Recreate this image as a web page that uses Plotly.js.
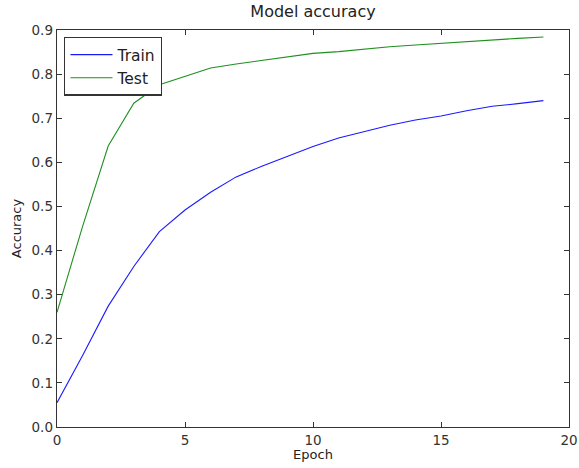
<!DOCTYPE html>
<html>
<head>
<meta charset="utf-8">
<script src="https://cdn.plot.ly/plotly-3.0.1.min.js"></script>
<style>html,body{margin:0;padding:0;background:#fff;}#chart{width:579px;height:468px;}</style>
</head>
<body>
<div id="chart"></div>
<script>
const epochs = [0,1,2,3,4,5,6,7,8,9,10,11,12,13,14,15,16,17,18,19];
const trainAcc = [0.055,0.162,0.274,0.364,0.443,0.492,0.532,0.567,0.591,0.613,0.636,0.655,0.670,0.684,0.696,0.705,0.717,0.727,0.733,0.740];
const testAcc = [0.26,0.455,0.637,0.734,0.776,0.795,0.814,0.823,0.831,0.839,0.847,0.851,0.857,0.862,0.866,0.870,0.874,0.877,0.881,0.884];
const seriesNames = ["Train","Test"];
const xTicks = [0,5,10,15,20];
const yTicks = [0,0.1,0.2,0.3,0.4,0.5,0.6,0.7,0.8,0.9];

const font = "DejaVu Sans, sans-serif";
const traces = [
  {x: epochs, y: trainAcc, name: seriesNames[0], mode: "lines", line: {color: "#1a1aff", width: 1.1}},
  {x: epochs, y: testAcc, name: seriesNames[1], mode: "lines", line: {color: "#1f8f1f", width: 1.1}}
];
const axisCommon = {
  showgrid: false, zeroline: false, showline: true, linecolor: "#333", linewidth: 1.3,
  mirror: "ticks", ticks: "inside", ticklen: 5, tickcolor: "#333", tickwidth: 1,
  tickfont: {family: font, size: 13.5, color: "#333"}
};
const layout = {
  width: 579, height: 468,
  margin: {l: 57, r: 10, t: 30, b: 41},
  paper_bgcolor: "#fff", plot_bgcolor: "#fff",
  title: {text: "Model accuracy", font: {family: font, size: 16, color: "#222"}, x: 0.5, xref: "paper", y: 1, yref: "container", yanchor: "top", pad: {t: 6}},
  xaxis: Object.assign({}, axisCommon, {range: [0, 20], tickvals: xTicks, ticktext: xTicks.map(String),
    title: {text: "Epoch", font: {family: font, size: 13, color: "#222"}, standoff: 3}}),
  yaxis: Object.assign({}, axisCommon, {range: [0, 0.9], tickvals: yTicks, ticktext: yTicks.map(v => v.toFixed(1)),
    title: {text: "Accuracy", font: {family: font, size: 13, color: "#222"}, standoff: 7}}),
  showlegend: true,
  legend: {x: 0.014, y: 0.983, xanchor: "left", yanchor: "top", bgcolor: "#fff", bordercolor: "#333", borderwidth: 1.3,
    font: {family: font, size: 15.5, color: "#222"}, tracegroupgap: 0, itemwidth: 42}
};
Plotly.newPlot("chart", traces, layout, {displayModeBar: false, staticPlot: true});
</script>
</body>
</html>
